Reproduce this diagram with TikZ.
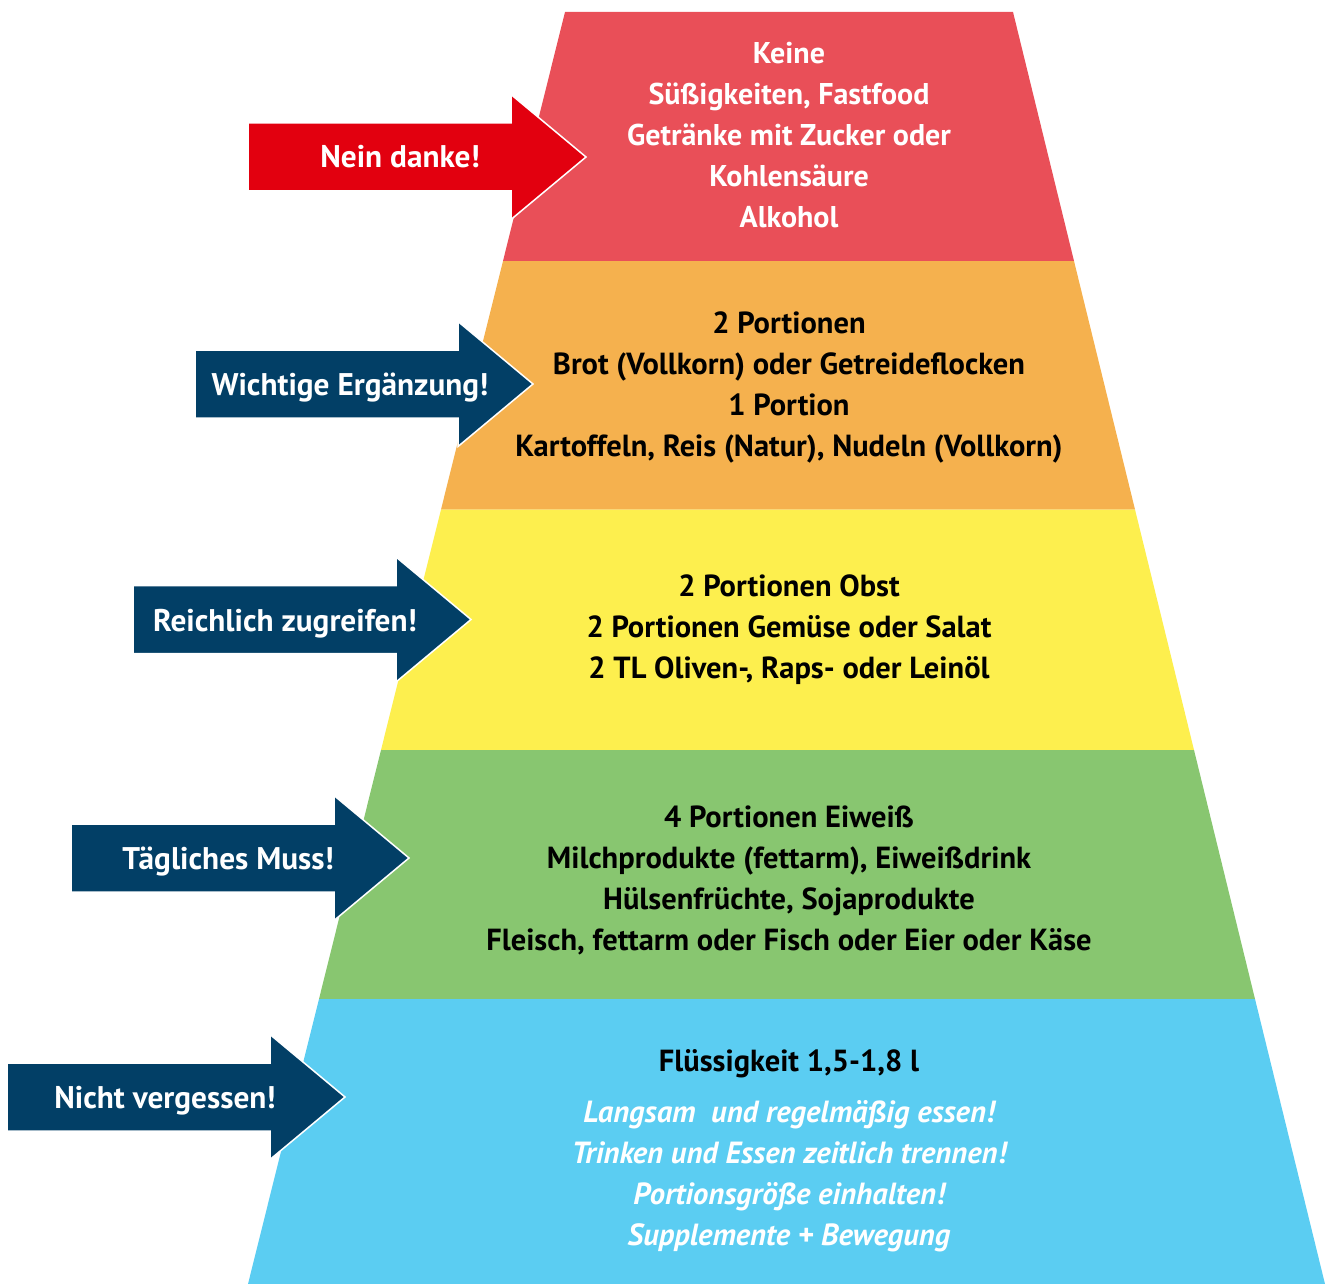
\documentclass[tikz,border=0pt]{standalone}
\usepackage{fontspec}
\setmainfont{PT Sans}
\definecolor{bandred}{HTML}{E94F58}
\definecolor{bandorange}{HTML}{F5B14E}
\definecolor{bandyellow}{HTML}{FDEF4E}
\definecolor{bandgreen}{HTML}{88C670}
\definecolor{bandblue}{HTML}{5BCDF2}
\definecolor{arrowblue}{HTML}{023F66}
\definecolor{arrowred}{HTML}{E2000F}
\newcommand\mypfeil[3]{%
  \fill[#3, draw=white, line width=1.5pt, line join=miter]
    (#1,{#2-34}) -- ({#1+263},{#2-34}) -- ({#1+263},{#2-62.5}) -- ({#1+338},#2)
    -- ({#1+263},{#2+62.5}) -- ({#1+263},{#2+34}) -- (#1,{#2+34}) -- cycle;}
\begin{document}
\begin{tikzpicture}[x=1pt,y=-1pt,
  lbl/.style={font=\bfseries\fontsize{30.5}{36}\selectfont, anchor=base, inner sep=0pt},
  wlbl/.style={font=\bfseries\fontsize{30}{36}\selectfont, anchor=base, inner sep=0pt, text=white},
  albl/.style={font=\bfseries\fontsize{31.3}{36}\selectfont, anchor=base, inner sep=0pt, text=white},
  ilbl/.style={font=\bfseries\itshape\fontsize{30.6}{36}\selectfont, anchor=base, inner sep=0pt, text=white}]
\useasboundingbox (0,0) rectangle (1325,1284);
% bands
\fill[bandred]    (565,12) -- (1013,12) -- (1074,261) -- (503,261) -- cycle;
\fill[bandorange] (503,261) -- (1074,261) -- (1135,509.5) -- (441,509.5) -- cycle;
\fill[bandyellow] (441,509.5) -- (1135,509.5) -- (1194,750) -- (381,750) -- cycle;
\fill[bandgreen]  (381,750) -- (1194,750) -- (1255,999) -- (319,999) -- cycle;
\fill[bandblue]   (319,999) -- (1255,999) -- (1325,1284) -- (248,1284) -- cycle;
% arrows
\mypfeil{248}{157}{arrowred}
\mypfeil{195}{384}{arrowblue}
\mypfeil{133}{619.5}{arrowblue}
\mypfeil{71}{858}{arrowblue}
\mypfeil{7}{1097}{arrowblue}
\node[albl] (a1) at (400,168) {Nein danke!};
\node[albl] (a2) at (350,395) {Wichtige Ergänzung!};
\node[albl] (a3) at (285,631) {Reichlich zugreifen!};
\node[albl] (a4) at (228,869) {Tägliches Muss!};
\node[albl] (a5) at (165,1108) {Nicht vergessen!};
% red band text
\node[wlbl] (r1) at (789,64) {Keine};
\node[wlbl] (r2) at (789,105) {Süßigkeiten, Fastfood};
\node[wlbl] (r3) at (789,146) {Getränke mit Zucker oder};
\node[wlbl] (r4) at (789,187) {Kohlensäure};
\node[wlbl] (r5) at (789,228) {Alkohol};
% orange
\node[lbl] (o1) at (789,333) {2 Portionen};
\node[lbl] (o2) at (789,374) {Brot (Vollkorn) oder Getreideflocken};
\node[lbl] (o3) at (789,415) {1 Portion};
\node[lbl] (o4) at (789,456) {Kartoffeln, Reis (Natur), Nudeln (Vollkorn)};
% yellow
\node[lbl] (y1) at (789,596) {2 Portionen Obst};
\node[lbl] (y2) at (789,637) {2 Portionen Gemüse oder Salat};
\node[lbl] (y3) at (789,678) {2 TL Oliven-, Raps- oder Leinöl};
% green
\node[lbl] (g1) at (789,827) {4 Portionen Eiweiß};
\node[lbl] (g2) at (789,868) {Milchprodukte (fettarm), Eiweißdrink};
\node[lbl] (g3) at (789,909) {Hülsenfrüchte, Sojaprodukte};
\node[lbl] (g4) at (789,950) {Fleisch, fettarm oder Fisch oder Eier oder Käse};
% blue
\node[lbl] (b1) at (789,1071) {Flüssigkeit 1,5-1,8 l};
\node[ilbl] (b2) at (789,1122) {Langsam \ und regelmäßig essen!};
\node[ilbl] (b3) at (789,1163) {Trinken und Essen zeitlich trennen!};
\node[ilbl] (b4) at (789,1204) {Portionsgröße einhalten!};
\node[ilbl] (b5) at (789,1245) {Supplemente + Bewegung};
\end{tikzpicture}
\end{document}
